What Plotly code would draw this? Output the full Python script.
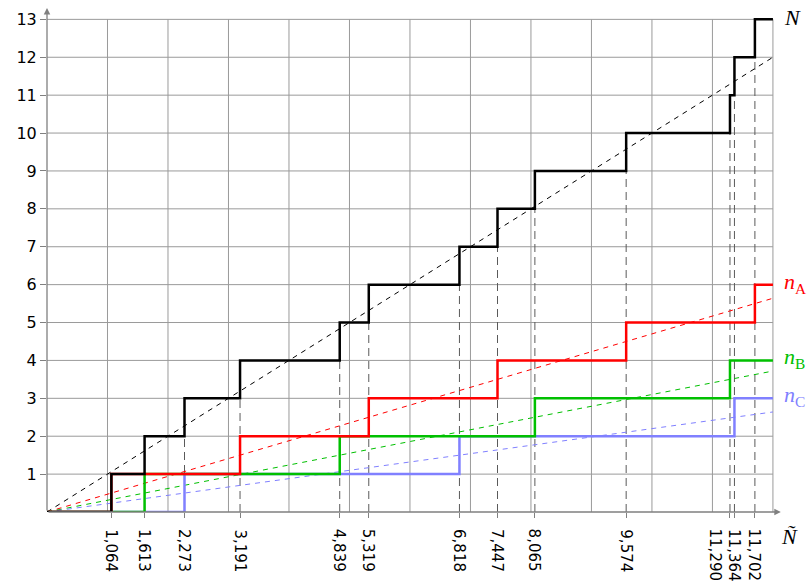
import plotly.graph_objects as go

# Arrival times (sorted) for each stream
t_A = [1.064, 3.191, 5.319, 7.447, 9.574, 11.702]
t_B = [1.613, 4.839, 8.065, 11.290]
t_C = [2.273, 6.818, 11.364]
t_N = sorted(t_A + t_B + t_C)
tick_text = [f"{t:.3f}".replace(".", ",") for t in t_N]

# Mean-trend slopes of the counting processes
slope_N = 1.0
slope_A = 0.47
slope_B = 0.31
slope_C = 0.22

x_end = 12
y_top = 13

col_N = "#000000"
col_A = "#ff0000"
col_B = "#00c000"
col_C = "#8080ff"

fig = go.Figure()


def step_xy(times):
    xs = [0] + list(times) + [x_end]
    ys = list(range(len(times) + 1)) + [len(times)]
    return xs, ys


# grid
for gx in range(1, x_end + 1):
    fig.add_shape(type="line", x0=gx, x1=gx, y0=0, y1=y_top,
                  line=dict(color="#9a9a9a", width=1), layer="below")
for gy in range(1, y_top + 1):
    fig.add_shape(type="line", x0=0, x1=x_end, y0=gy, y1=gy,
                  line=dict(color="#9a9a9a", width=1), layer="below")

# dashed drop lines from each arrival down to the axis
for k, t in enumerate(t_N):
    fig.add_trace(go.Scatter(x=[t, t], y=[0, k], mode="lines",
                             line=dict(color="#5a5a5a", width=1, dash="8px,5px"),
                             hoverinfo="skip", showlegend=False))

# trend lines
for s, c in [(slope_N, col_N), (slope_A, col_A), (slope_B, col_B), (slope_C, col_C)]:
    fig.add_trace(go.Scatter(x=[0, x_end], y=[0, s * x_end], mode="lines",
                             line=dict(color=c, width=1, dash="5px,5px"),
                             hoverinfo="skip", showlegend=False))

# counting processes
for times, c in [(t_C, col_C), (t_B, col_B), (t_A, col_A), (t_N, col_N)]:
    xs, ys = step_xy(times)
    fig.add_trace(go.Scatter(x=xs, y=ys, mode="lines", line_shape="hv",
                             line=dict(color=c, width=2.5),
                             hoverinfo="skip", showlegend=False, cliponaxis=False))

# axes with arrow heads
fig.add_annotation(x=12.13, y=0, ax=0, ay=0, xref="x", yref="y", axref="x", ayref="y",
                   showarrow=True, arrowhead=2, arrowsize=1, arrowwidth=1.3,
                   arrowcolor="#808080", text="")
fig.add_annotation(x=0, y=13.3, ax=0, ay=0, xref="x", yref="y", axref="x", ayref="y",
                   showarrow=True, arrowhead=2, arrowsize=1, arrowwidth=1.3,
                   arrowcolor="#808080", text="")

# rotated arrival-time labels; the two nearly coincident ones are set side by side
label_shift = {11.290: -14}
for t, txt in zip(t_N, tick_text):
    fig.add_annotation(x=t, y=0, xref="x", yref="y", text=txt, showarrow=False,
                       textangle=90, xanchor="center", yanchor="top",
                       xshift=label_shift.get(t, 0), yshift=-15,
                       font=dict(family="DejaVu Sans", size=15, color="#000000"))

# series labels
serif = "Liberation Serif"
labels = [
    (len(t_N), "<i>N</i>", col_N),
    (len(t_A), "<i>n</i><sub>A</sub>", col_A),
    (len(t_B), "<i>n</i><sub>B</sub>", col_B),
    (len(t_C), "<i>n</i><sub>C</sub>", col_C),
]
for yv, txt, c in labels:
    fig.add_annotation(x=x_end, y=yv, xref="x", yref="y", text=txt, showarrow=False,
                       xanchor="left", xshift=9, yshift=2,
                       font=dict(family=serif, size=22, color=c))
fig.add_annotation(x=x_end, y=0, xref="x", yref="y", text="<i>Ñ</i>", showarrow=False,
                   xanchor="left", yanchor="top", xshift=6, yshift=-10,
                   font=dict(family=serif, size=22, color="#000000"))

fig.update_xaxes(range=[0, 12.15], tickmode="array", tickvals=t_N,
                 showticklabels=False,
                 ticks="outside", ticklen=5, tickcolor="#808080",
                 showgrid=False, zeroline=False, showline=False, fixedrange=True)
fig.update_yaxes(range=[0, 13.3], tickmode="array", tickvals=list(range(1, y_top + 1)),
                 ticks="outside", ticklen=6, tickcolor="#808080",
                 tickfont=dict(family="DejaVu Sans", size=16, color="#000000"),
                 showgrid=False, zeroline=False, showline=False, fixedrange=True)

fig.update_layout(width=810, height=585, margin=dict(l=47, r=28, t=8, b=73),
                  paper_bgcolor="white", plot_bgcolor="white", showlegend=False)

fig.write_html("out.html")
